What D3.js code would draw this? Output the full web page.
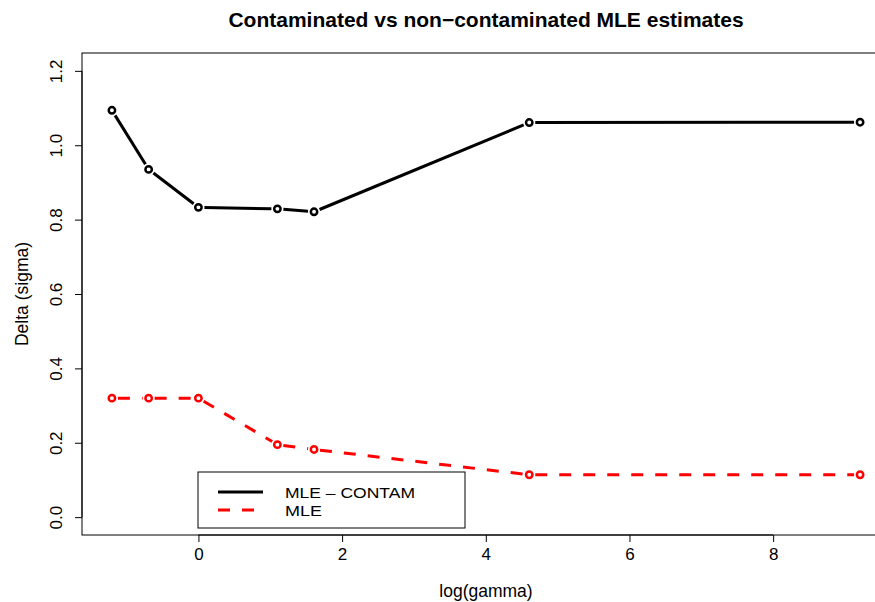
<!DOCTYPE html>
<html>
<head>
<meta charset="utf-8">
<script src="https://cdn.jsdelivr.net/npm/d3@7"></script>
<style>
  body { margin: 0; background: #fff; }
  text { font-family: "Liberation Sans", Arial, Helvetica, sans-serif; }
</style>
</head>
<body>
<svg width="875" height="602"></svg>
<script>
// gamma = 0.3, 0.5, 1, 3, 5, 100, 10000
let logGamma = [-1.204, -0.693, 0, 1.099, 1.609, 4.605, 9.210];
let contam = [1.094, 0.935, 0.833, 0.829, 0.821, 1.061, 1.062];
let mle = [0.320, 0.320, 0.320, 0.195, 0.182, 0.114, 0.114];
let xTicks = [0, 2, 4, 6, 8];
let yTicks = [0, 0.2, 0.4, 0.6, 0.8, 1.0, 1.2];
let seriesNames = ["MLE \u2013 CONTAM", "MLE"];

let svg = d3.select("svg");
let margin = {top: 53, right: -15, bottom: 67, left: 82};
let width = +svg.attr("width") - margin.left - margin.right;
let height = +svg.attr("height") - margin.top - margin.bottom;

// R style 4% padding
let xr = d3.extent(logGamma);
let xpad = (xr[1] - xr[0]) * 0.04;
let x = d3.scaleLinear().domain([xr[0] - xpad, xr[1] + xpad]).range([0, width]);
let y = d3.scaleLinear().domain([-0.048, 1.248]).range([height, 0]);

let g = svg.append("g")
    .attr("transform", "translate(" + margin.left + "," + margin.top + ")");

g.append("text")
    .attr("x", width / 2)
    .attr("y", -26)
    .attr("text-anchor", "middle")
    .attr("font-size", "21px")
    .attr("font-weight", "bold")
    .text("Contaminated vs non\u2212contaminated MLE estimates");

// axes
let xAxis = g.append("g")
    .attr("transform", "translate(0," + height + ")")
    .call(d3.axisBottom(x).tickValues(xTicks).tickSize(7).tickPadding(6).tickFormat(d3.format("d")));
let yAxis = g.append("g")
    .call(d3.axisLeft(y).tickValues(yTicks).tickSize(7).tickPadding(6).tickFormat(d3.format(".1f")));
[xAxis, yAxis].forEach(function (a) {
    a.select(".domain").remove();
    a.selectAll("text").attr("font-size", "17px").attr("font-family", "Liberation Sans, Arial, sans-serif");
});
xAxis.append("line").attr("x1", x(0)).attr("x2", x(8)).attr("stroke", "#000");
yAxis.append("line").attr("y1", y(0)).attr("y2", y(1.2)).attr("stroke", "#000");
xAxis.selectAll(".tick text").attr("y", 13).attr("dy", "0.71em");
yAxis.selectAll(".tick text")
    .attr("transform", "rotate(-90)")
    .attr("x", 0)
    .attr("y", -20)
    .attr("dy", 0)
    .attr("text-anchor", "middle");

g.append("rect")
    .attr("width", width).attr("height", height)
    .attr("fill", "none").attr("stroke", "#000");

g.append("text")
    .attr("x", width / 2)
    .attr("y", height + 62)
    .attr("text-anchor", "middle")
    .attr("font-size", "17.5px")
    .text("log(gamma)");

g.append("text")
    .attr("transform", "translate(" + (-54) + "," + (height / 2) + ") rotate(-90)")
    .attr("text-anchor", "middle")
    .attr("font-size", "17.5px")
    .text("Delta (sigma)");

// type="b": segments with gaps around the points
function drawSeries(vals, color, dash) {
    let pts = logGamma.map(function (d, i) { return [x(d), y(vals[i])]; });
    let gap = 6;
    let segs = [];
    for (let i = 0; i < pts.length - 1; i++) {
        let dx = pts[i + 1][0] - pts[i][0], dy = pts[i + 1][1] - pts[i][1];
        let len = Math.sqrt(dx * dx + dy * dy);
        if (len <= 2 * gap) continue;
        let ux = dx / len, uy = dy / len;
        segs.push([pts[i][0] + ux * gap, pts[i][1] + uy * gap,
                   pts[i + 1][0] - ux * gap, pts[i + 1][1] - uy * gap]);
    }
    g.selectAll(null).data(segs).enter().append("line")
        .attr("x1", function (d) { return d[0]; })
        .attr("y1", function (d) { return d[1]; })
        .attr("x2", function (d) { return d[2]; })
        .attr("y2", function (d) { return d[3]; })
        .attr("stroke", color)
        .attr("stroke-width", 3)
        .attr("stroke-dasharray", dash);
    g.selectAll(null).data(pts).enter().append("circle")
        .attr("cx", function (d) { return d[0]; })
        .attr("cy", function (d) { return d[1]; })
        .attr("r", 3.2)
        .attr("fill", "none")
        .attr("stroke", color)
        .attr("stroke-width", 2.5);
}
drawSeries(contam, "#000", null);
drawSeries(mle, "#ff0000", "12,12");

// legend
let leg = svg.append("g").attr("transform", "translate(198,472)");
leg.append("rect").attr("width", 267).attr("height", 56)
    .attr("fill", "#fff").attr("stroke", "#000");
let legColors = ["#000", "#ff0000"];
let legDash = [null, "12,12"];
let legWidths = [130, 37];
seriesNames.forEach(function (n, i) {
    let yy = 20 + i * 18;
    leg.append("line").attr("x1", 20).attr("x2", 65).attr("y1", yy).attr("y2", yy)
        .attr("stroke", legColors[i]).attr("stroke-width", 3)
        .attr("stroke-dasharray", legDash[i]);
    leg.append("text").attr("x", 87).attr("y", yy + 6)
        .attr("font-size", "15.5px")
        .attr("textLength", legWidths[i])
        .attr("lengthAdjust", "spacingAndGlyphs")
        .text(n);
});
</script>
</body>
</html>
